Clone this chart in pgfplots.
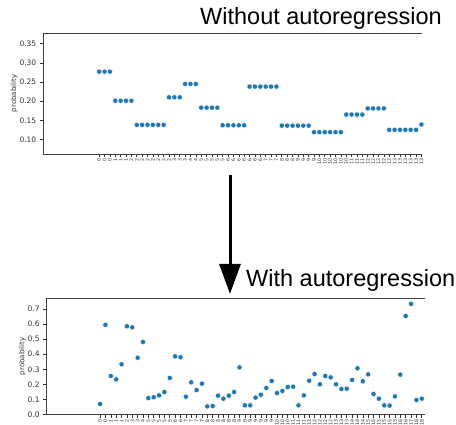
\documentclass[border=0pt]{standalone}
\usepackage{fontspec}
\setmainfont{DejaVu Sans}
\newfontfamily\arial{Liberation Sans}
\usepackage{pgfplots}
\pgfplotsset{compat=1.18}
\usetikzlibrary{arrows.meta}

\definecolor{mplblue}{HTML}{1F77B4}

\pgfplotsset{
  probstyle/.style={
    scale only axis,
    anchor=south west,
    axis x line*=box, axis y line*=left,
    xtick pos=left, ytick pos=left,
    tick align=outside,
    major tick length=3.5pt,
    every tick/.style={black!80, line width=0.6pt},
    axis line style={black!75, line width=0.6pt, -},
    tick label style={font=\fontsize{7.5}{8}\selectfont, text=black!80},
    /pgf/number format/assume math mode=true,
    xtick=data,
    xticklabel style={rotate=90, anchor=east, font=\fontsize{4.8}{5}\selectfont, inner sep=1pt},
    ylabel={probability},
    ylabel shift=-5pt,
    ylabel style={font=\fontsize{7}{8}\selectfont, text=black!80},
  },
  dots/.style={only marks, mark=*, mark size=2.6pt,
    mark options={fill=mplblue, draw=white, line width=0.35pt}},
}

\begin{document}
\begin{tikzpicture}
\useasboundingbox (0,0) rectangle (456pt,425pt);

% without autoregression
\begin{axis}[probstyle,
  at={(43.3pt,271pt)}, width=378.4pt, height=121pt,
  xmin=-10.4, xmax=60.05, ymin=0.062, ymax=0.378,
  ytick={0.10,0.15,0.20,0.25,0.30,0.35},
  yticklabel style={/pgf/number format/.cd, fixed, fixed zerofill, precision=2},
  xticklabels={0,0,0,1,1,1,2,2,2,2,2,2,2,2,3,3,3,4,4,5,5,5,5,5,6,6,6,6,6,6,6,7,7,7,8,8,8,9,9,9,9,10,10,10,10,10,10,11,11,11,12,12,12,12,12,13,13,13,13,13,13},
]
\addplot[dots] table {
x y
0 0.277
1 0.277
2 0.277
3 0.201
4 0.201
5 0.201
6 0.201
7 0.138
8 0.138
9 0.138
10 0.138
11 0.138
12 0.138
13 0.210
14 0.210
15 0.210
16 0.245
17 0.245
18 0.245
19 0.183
20 0.183
21 0.183
22 0.183
23 0.137
24 0.137
25 0.137
26 0.137
27 0.137
28 0.238
29 0.238
30 0.238
31 0.238
32 0.238
33 0.238
34 0.136
35 0.136
36 0.136
37 0.136
38 0.136
39 0.136
40 0.119
41 0.119
42 0.119
43 0.119
44 0.119
45 0.119
46 0.165
47 0.165
48 0.165
49 0.165
50 0.181
51 0.181
52 0.181
53 0.181
54 0.125
55 0.125
56 0.125
57 0.125
58 0.125
59 0.125
60 0.139
};
\end{axis}

% with autoregression
\begin{axis}[probstyle,
  at={(46.7pt,10.3pt)}, width=378.3pt, height=116.4pt,
  xmin=-9.96, xmax=60.6, ymin=0, ymax=0.77,
  ytick={0,0.1,0.2,0.3,0.4,0.5,0.6,0.7},
  yticklabel style={/pgf/number format/.cd, fixed, fixed zerofill, precision=1},
  xticklabels={0,0,1,1,1,2,3,3,4,5,5,5,5,5,6,6,7,7,7,7,8,8,8,8,8,8,9,9,9,9,9,9,9,10,10,10,11,11,11,12,12,12,12,12,13,13,13,14,14,14,15,15,15,15,15,15,16,16,17,18,18,18},
]
\addplot[dots] table {
x y
0 0.071
1 0.594
2 0.256
3 0.234
4 0.333
5 0.585
6 0.578
7 0.377
8 0.481
9 0.110
10 0.115
11 0.128
12 0.150
13 0.243
14 0.386
15 0.380
16 0.119
17 0.214
18 0.163
19 0.205
20 0.055
21 0.057
22 0.126
23 0.106
24 0.126
25 0.150
26 0.313
27 0.062
28 0.062
29 0.113
30 0.132
31 0.177
32 0.223
33 0.143
34 0.157
35 0.183
36 0.185
37 0.062
38 0.128
39 0.225
40 0.269
41 0.201
42 0.256
43 0.247
44 0.201
45 0.170
46 0.172
47 0.230
48 0.307
49 0.221
50 0.267
51 0.137
52 0.106
53 0.062
54 0.060
55 0.121
56 0.265
57 0.653
58 0.733
59 0.097
60 0.106
61 0.243
};
\end{axis}

\node[anchor=base west, inner sep=0pt, font=\arial\fontsize{23.5}{26}\selectfont] at (200pt,400pt) {Without autoregression};
\draw[line width=3pt, -{Triangle[length=30pt,width=21pt]}] (230pt,250pt) -- (230pt,131pt);
\node[anchor=base west, inner sep=0pt, font=\arial\fontsize{23.5}{26}\selectfont] at (246pt,138pt) {With autoregression};
\end{tikzpicture}
\end{document}
